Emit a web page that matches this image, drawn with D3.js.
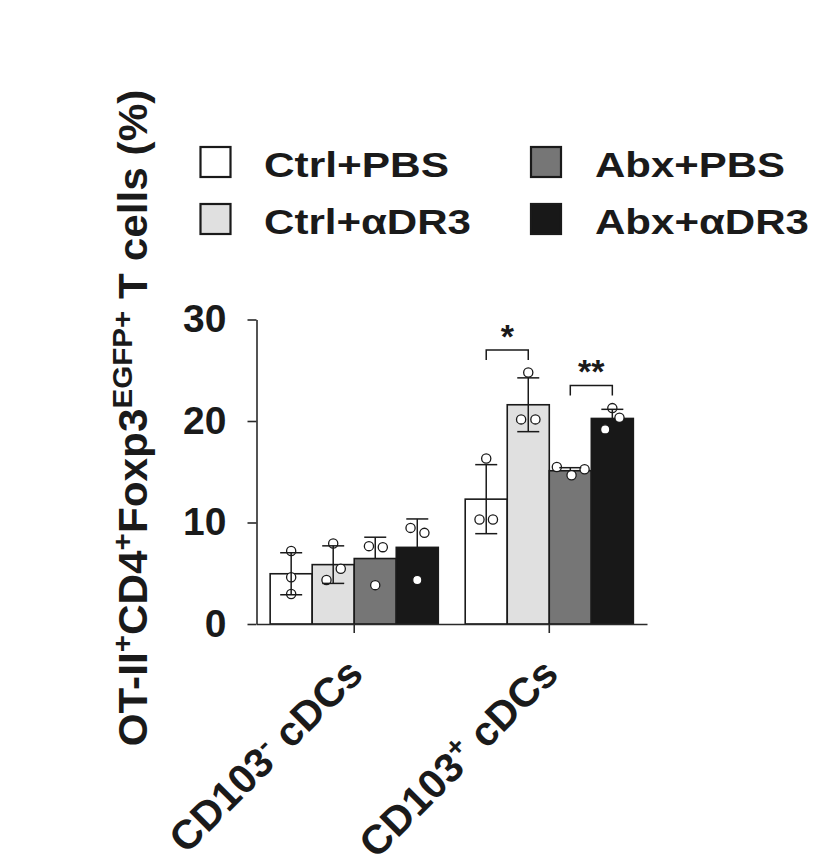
<!DOCTYPE html>
<html><head><meta charset="utf-8">
<script src="https://cdn.jsdelivr.net/npm/d3@7"></script>
<style>
body{margin:0;background:#fff}
svg{display:block}
text{font-family:"Liberation Sans",Arial,Helvetica,sans-serif;font-weight:bold;fill:#1a1a1a}
</style>
</head><body>
<svg id="c" width="835" height="865"></svg>
<script>
// ---------------- data ----------------
const categories = ["CD103^{-} cDCs", "CD103^{+} cDCs"];
const seriesNames = ["Ctrl+PBS", "Ctrl+αDR3", "Abx+PBS", "Abx+αDR3"];
const seriesColors = ["#ffffff", "#e0e0e0", "#767676", "#181818"];
const yTicks = [0, 10, 20, 30];
const yTitle = "OT-II^{+}CD4^{+}Foxp3^{EGFP+} T cells (%)";

// bar means (per category, per series)
const meansCD103neg = [4.95, 5.85, 6.45, 7.55];
const meansCD103pos = [12.3, 21.6, 15.1, 20.25];
// standard deviations
const sdCD103neg = [2.07, 1.85, 2.1, 2.8];
const sdCD103pos = [3.4, 2.65, 0.3, 0.9];
// individual mice
const pointsCD103neg = [[7.2, 4.6, 2.95], [7.93, 5.44, 4.33], [7.67, 7.57, 3.83], [9.47, 8.98, 4.33]];
const pointsCD103pos = [[16.3, 10.3, 10.3], [24.78, 20.16, 20.16], [15.47, 14.65, 15.24], [21.27, 20.32, 19.17]];
// horizontal scatter of the dots, as a fraction of bar width
const jitterCD103neg = [[0, 0, 0], [0, 0.18, -0.16], [-0.15, 0.18, 0], [-0.16, 0.17, 0]];
const jitterCD103pos = [[0, -0.16, 0.16], [0, -0.17, 0.17], [-0.32, 0.03, 0.34], [0, 0.17, -0.17]];
// significance brackets
const brackets = [
  {cat: 1, from: 0, to: 1, value: 27.0, label: "*"},
  {cat: 1, from: 2, to: 3, value: 23.5, label: "**"}
];

const means = [meansCD103neg, meansCD103pos];
const sds = [sdCD103neg, sdCD103pos];
const points = [pointsCD103neg, pointsCD103pos];
const jitter = [jitterCD103neg, jitterCD103pos];

// ---------------- helpers ----------------
function richText(sel, str, supSize, supShift) {
  const parts = str.split(/(\^\{[^}]*\})/).filter(s => s.length);
  let raised = false;
  parts.forEach(p => {
    if (p.startsWith("^{")) {
      sel.append("tspan").attr("font-size", supSize).attr("dy", -supShift).text(p.slice(2, -1));
      raised = true;
    } else {
      const t = sel.append("tspan").text(p);
      if (raised) { t.attr("dy", supShift); raised = false; }
    }
  });
}

// ---------------- chart ----------------
const svg = d3.select("#c");
const ink = "#1a1a1a";

const x0 = d3.scaleBand().domain(d3.range(categories.length)).range([256.5, 647]).paddingInner(0.138).paddingOuter(0.07);
const x1 = d3.scaleBand().domain(d3.range(seriesNames.length)).range([0, x0.bandwidth()]);
const y = d3.scaleLinear().domain([0, 30]).range([624, 319.5]);

// bars
const gCat = svg.append("g").selectAll("g").data(categories).join("g")
  .attr("transform", (d, i) => `translate(${x0(i)},0)`);

gCat.each(function(c, ci) {
  const g = d3.select(this);
  g.selectAll("rect").data(means[ci]).join("rect")
    .attr("x", (d, si) => x1(si))
    .attr("y", d => y(d))
    .attr("width", x1.bandwidth())
    .attr("height", d => y(0) - y(d))
    .attr("fill", (d, si) => seriesColors[si])
    .attr("stroke", ink).attr("stroke-width", 1.6);

  // dots
  means[ci].forEach((m, si) => {
    const cx = x1(si) + x1.bandwidth() / 2;
    g.selectAll(null).data(points[ci][si]).join("circle")
      .attr("cx", (d, k) => cx + jitter[ci][si][k] * x1.bandwidth())
      .attr("cy", d => y(d))
      .attr("r", 4.6)
      .attr("fill", "#fff").attr("stroke", ink).attr("stroke-width", 1.3);
  });

  // error bars
  means[ci].forEach((m, si) => {
    const cx = x1(si) + x1.bandwidth() / 2;
    const sd = sds[ci][si];
    const lower = si < 2; // visible lower whisker only on light bars
    const top = y(m + sd), bot = lower ? y(m - sd) : y(m);
    g.append("line").attr("x1", cx).attr("x2", cx).attr("y1", top).attr("y2", bot)
      .attr("stroke", ink).attr("stroke-width", 1.5);
    g.append("line").attr("x1", cx - 11).attr("x2", cx + 11).attr("y1", top).attr("y2", top)
      .attr("stroke", ink).attr("stroke-width", 1.5);
    if (lower) g.append("line").attr("x1", cx - 11).attr("x2", cx + 11).attr("y1", bot).attr("y2", bot)
      .attr("stroke", ink).attr("stroke-width", 1.5);
  });
});

// axes
const yAxis = svg.append("g").attr("transform", "translate(256.5,0)")
  .call(d3.axisLeft(y).tickValues(yTicks).tickSize(9).tickSizeOuter(0).tickPadding(21));
yAxis.selectAll("text").attr("font-size", 39).attr("fill", ink)
  .attr("font-family", '"Liberation Sans",Arial,sans-serif').attr("font-weight", "bold");

const xAxis = svg.append("g").attr("transform", `translate(0,${y(0)})`)
  .call(d3.axisBottom(x0).tickSize(9).tickSizeOuter(0).tickFormat(""));
[yAxis, xAxis].forEach(a => {
  a.selectAll("path,line").attr("stroke", "#2a2a2a").attr("stroke-width", 1.6);
});

// category labels
categories.forEach((c, ci) => {
  const cx = x0(ci) + x0.bandwidth() / 2;
  const t = svg.append("text").attr("text-anchor", "end").attr("font-size", 41)
    .attr("transform", `translate(${cx + 11},${676}) rotate(-45)`);
  richText(t, c, 28, 15);
});

// y title
const yt = svg.append("text").attr("text-anchor", "middle").attr("font-size", 40);
richText(yt, yTitle, 28, 15);
{
  const w = yt.node().getComputedTextLength();
  const k = 657 / w;
  yt.attr("transform", `translate(147,418) rotate(-90) scale(${k},1)`);
}

// significance brackets
brackets.forEach(b => {
  const xa = x0(b.cat) + x1(b.from) + x1.bandwidth() / 2;
  const xb = x0(b.cat) + x1(b.to) + x1.bandwidth() / 2;
  const yy = y(b.value);
  svg.append("path").attr("d", `M${xa},${yy + 10}V${yy}H${xb}V${yy + 10}`)
    .attr("fill", "none").attr("stroke", ink).attr("stroke-width", 1.5);
  svg.append("text").attr("x", (xa + xb) / 2).attr("y", yy - 2).attr("text-anchor", "middle")
    .attr("font-size", 34).text(b.label);
});

// legend
const legendWidths = [185, 207, 190, 214];
const leg = svg.append("g");
seriesNames.forEach((s, i) => {
  const col = Math.floor(i / 2), row = i % 2;
  const bx = col === 0 ? 200.5 : 531, by = 147 + row * 57;
  const tx = col === 0 ? 264 : 595;
  leg.append("rect").attr("x", bx).attr("y", by).attr("width", 30).attr("height", 30)
    .attr("fill", seriesColors[i]).attr("stroke", ink).attr("stroke-width", 2.2);
  leg.append("text").attr("x", tx).attr("y", by + 30).attr("font-size", 35)
    .attr("textLength", legendWidths[i]).attr("lengthAdjust", "spacingAndGlyphs").text(s);
});
</script>
</body></html>
